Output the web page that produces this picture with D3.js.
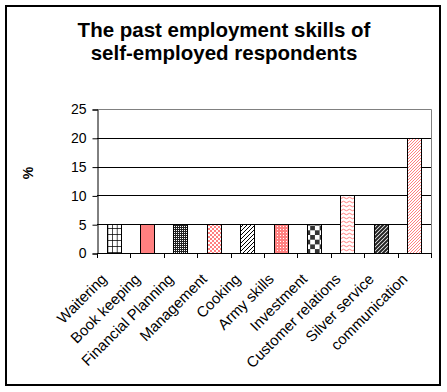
<!DOCTYPE html>
<html>
<head>
<meta charset="utf-8">
<script src="https://cdn.jsdelivr.net/npm/d3@7"></script>
<style>
  body { margin: 0; background: #fff; }
  text { font-family: Arial, "Liberation Sans", sans-serif; }
</style>
</head>
<body>
<div id="chart"></div>
<script>
// chart data
var categories = ["Waitering", "Book keeping", "Financial Planning", "Management", "Cooking",
                  "Army skills", "Investment", "Customer relations", "Silver service", "communication"];
var values = [5, 5, 5, 5, 5, 5, 5, 10, 5, 20];
var yTicks = [0, 5, 10, 15, 20, 25];
var titleLines = ["The past employment skills of", "self-employed respondents"];
// one pattern id per bar
var fills = ["grid", "solidRed", "darkDots", "redCheck", "thinDiag",
             "redDots", "bigCheck", "redWave", "thickDiag", "redDiag"];

var width = 447, height = 392;
var plotLeft = 97, plotRight = 431, plotTop = 109, plotBottom = 253;

var svg = d3.select("#chart").append("svg")
    .attr("width", width)
    .attr("height", height);

// patterns
var defs = svg.append("defs");
var red = "#ff8080";

var p = defs.append("pattern").attr("id", "grid").attr("patternUnits", "userSpaceOnUse")
    .attr("width", 4.67).attr("height", 6);
p.append("rect").attr("width", 4.67).attr("height", 6).attr("fill", "#fff");
p.append("path").attr("d", "M0,0V6M0,0H4.67").attr("stroke", "#000").attr("stroke-width", 1.4);

p = defs.append("pattern").attr("id", "solidRed").attr("patternUnits", "userSpaceOnUse")
    .attr("width", 4).attr("height", 4);
p.append("rect").attr("width", 4).attr("height", 4).attr("fill", red);

p = defs.append("pattern").attr("id", "darkDots").attr("patternUnits", "userSpaceOnUse")
    .attr("width", 2).attr("height", 2);
p.append("rect").attr("width", 2).attr("height", 2).attr("fill", "#222");
p.append("rect").attr("width", 1).attr("height", 1).attr("fill", "#fff");

p = defs.append("pattern").attr("id", "redCheck").attr("patternUnits", "userSpaceOnUse")
    .attr("width", 4).attr("height", 4);
p.append("rect").attr("width", 4).attr("height", 4).attr("fill", "#fff");
p.append("rect").attr("width", 2).attr("height", 2).attr("fill", red);
p.append("rect").attr("x", 2).attr("y", 2).attr("width", 2).attr("height", 2).attr("fill", red);

p = defs.append("pattern").attr("id", "thinDiag").attr("patternUnits", "userSpaceOnUse")
    .attr("width", 4).attr("height", 4);
p.append("rect").attr("width", 4).attr("height", 4).attr("fill", "#fff");
p.append("path").attr("d", "M-1,1L1,-1M0,4L4,0M3,5L5,3").attr("stroke", "#000").attr("stroke-width", 1);

p = defs.append("pattern").attr("id", "redDots").attr("patternUnits", "userSpaceOnUse")
    .attr("width", 3).attr("height", 3);
p.append("rect").attr("width", 3).attr("height", 3).attr("fill", red);
p.append("rect").attr("x", 1).attr("y", 1).attr("width", 1).attr("height", 1).attr("fill", "#fff");

p = defs.append("pattern").attr("id", "bigCheck").attr("patternUnits", "userSpaceOnUse")
    .attr("width", 9.4).attr("height", 9.4);
p.append("rect").attr("width", 9.4).attr("height", 9.4).attr("fill", "#fff");
p.append("rect").attr("width", 4.7).attr("height", 4.7).attr("fill", "#333");
p.append("rect").attr("x", 4.7).attr("y", 4.7).attr("width", 4.7).attr("height", 4.7).attr("fill", "#333");

p = defs.append("pattern").attr("id", "redWave").attr("patternUnits", "userSpaceOnUse")
    .attr("width", 6).attr("height", 4);
p.append("rect").attr("width", 6).attr("height", 4).attr("fill", "#fff");
p.append("path").attr("d", "M0,2Q1.5,0.5 3,2T6,2").attr("fill", "none").attr("stroke", red).attr("stroke-width", 1);

p = defs.append("pattern").attr("id", "thickDiag").attr("patternUnits", "userSpaceOnUse")
    .attr("width", 4).attr("height", 4);
p.append("rect").attr("width", 4).attr("height", 4).attr("fill", "#fff");
p.append("path").attr("d", "M-1,1L1,-1M0,4L4,0M3,5L5,3").attr("stroke", "#222").attr("stroke-width", 2);

p = defs.append("pattern").attr("id", "redDiag").attr("patternUnits", "userSpaceOnUse")
    .attr("width", 3).attr("height", 3);
p.append("rect").attr("width", 3).attr("height", 3).attr("fill", "#fff");
p.append("path").attr("d", "M-1,1L1,-1M0,3L3,0M2,4L4,2").attr("stroke", red).attr("stroke-width", 1);

// outer border
svg.append("rect")
    .attr("x", 6).attr("y", 6)
    .attr("width", 434).attr("height", 379)
    .attr("fill", "none").attr("stroke", "#000").attr("stroke-width", 2);

// title
svg.append("text")
    .attr("x", 224).attr("y", 37)
    .attr("text-anchor", "middle")
    .attr("font-size", "20.5px").attr("font-weight", "bold")
    .selectAll("tspan")
    .data(titleLines)
    .enter().append("tspan")
    .attr("x", 224)
    .attr("dy", function(d, i) { return i == 0 ? 0 : 23; })
    .text(function(d) { return d; });

var xScale = d3.scaleBand().domain(categories).range([plotLeft, plotRight]).padding(0);
var yScale = d3.scaleLinear().domain([0, 25]).range([plotBottom, plotTop]);

// gridlines
svg.append("g").selectAll("line")
    .data(yTicks.filter(function(t) { return t > 0 && t < 25; }))
    .enter().append("line")
    .attr("x1", plotLeft).attr("x2", plotRight)
    .attr("y1", function(d) { return Math.round(yScale(d)) + 0.5; })
    .attr("y2", function(d) { return Math.round(yScale(d)) + 0.5; })
    .attr("stroke", "#000");

// plot border top/right (grey)
svg.append("path")
    .attr("d", "M" + plotLeft + "," + (plotTop + 0.5) + "H" + (plotRight + 0.5) + "V" + plotBottom)
    .attr("fill", "none").attr("stroke", "#808080");

// bars
var barW = xScale.bandwidth() * 0.42;
svg.append("g").selectAll("rect")
    .data(values)
    .enter().append("rect")
    .attr("x", function(d, i) { return Math.round(xScale(categories[i]) + (xScale.bandwidth() - barW) / 2) + 0.5; })
    .attr("y", function(d) { return Math.round(yScale(d)) + 0.5; })
    .attr("width", Math.round(barW))
    .attr("height", function(d) { return Math.round(yScale(0)) - Math.round(yScale(d)); })
    .attr("fill", function(d, i) { return "url(#" + fills[i] + ")"; })
    .attr("stroke", "#000");

// y axis
var yAxis = d3.axisLeft(yScale).tickValues(yTicks).tickSize(5).tickPadding(6);
var gy = svg.append("g")
    .attr("transform", "translate(" + (plotLeft + 0.5) + ",0.5)")
    .call(yAxis);
gy.selectAll("text").attr("font-size", "14px").attr("font-family", "Arial, 'Liberation Sans', sans-serif").attr("fill", "#000");
gy.selectAll("line, path").attr("stroke", "#000");

// x axis line and boundary ticks
var bounds = categories.map(function(c) { return xScale(c); }).concat([plotRight]);
svg.append("line")
    .attr("x1", plotLeft).attr("x2", plotRight + 1)
    .attr("y1", plotBottom + 0.5).attr("y2", plotBottom + 0.5)
    .attr("stroke", "#000");
svg.append("g").selectAll("line")
    .data(bounds)
    .enter().append("line")
    .attr("x1", function(d) { return Math.round(d) + 0.5; })
    .attr("x2", function(d) { return Math.round(d) + 0.5; })
    .attr("y1", plotBottom).attr("y2", plotBottom + 5)
    .attr("stroke", "#000");

// rotated category labels
svg.append("g").selectAll("text")
    .data(categories)
    .enter().append("text")
    .attr("text-anchor", "end")
    .attr("font-size", "15px")
    .attr("transform", function(d) {
        return "translate(" + (xScale(d) + xScale.bandwidth() / 2 - 6) + "," + 280 + ") rotate(-45)";
    })
    .text(function(d) { return d; });

// y label
svg.append("text")
    .attr("transform", "translate(33,173) rotate(-90)")
    .attr("text-anchor", "middle")
    .attr("font-size", "14px").attr("font-weight", "bold")
    .text("%");
</script>
</body>
</html>
